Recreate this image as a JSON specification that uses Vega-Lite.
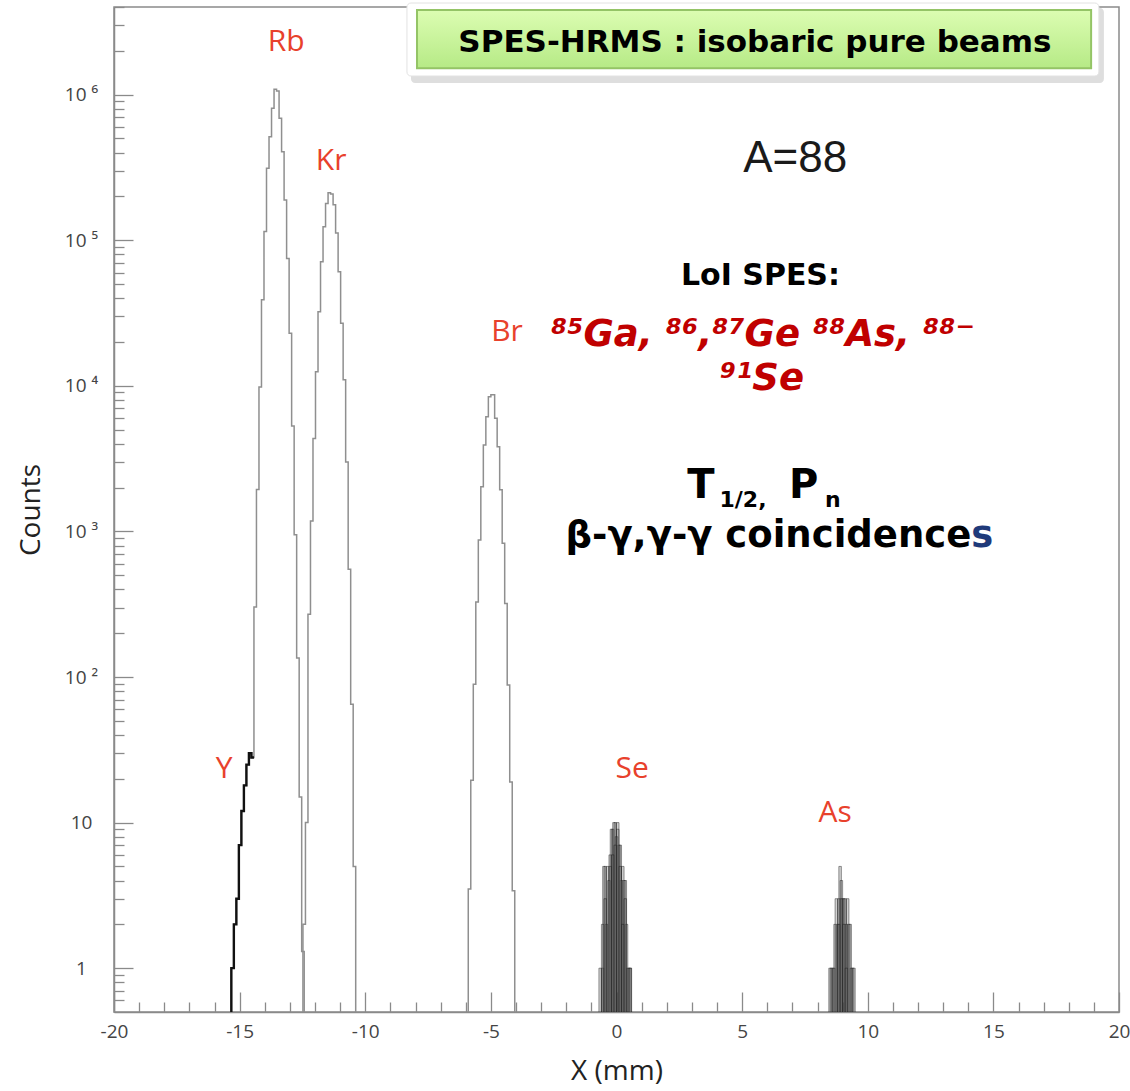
{
  "$schema": "https://vega.github.io/schema/vega-lite/v6.json",
  "width": 1005,
  "height": 1005,
  "autosize": {"type": "none"},
  "padding": {"left": 114, "top": 7, "right": 11, "bottom": 79},
  "background": "white",
  "config": {
    "view": {"stroke": "#8a8a8a", "strokeWidth": 1.5},
    "axis": {
      "grid": false,
      "domainColor": "#8a8a8a",
      "domainWidth": 1.5,
      "tickColor": "#8a8a8a",
      "tickWidth": 1.3,
      "labelColor": "#444444",
      "labelFont": "Open Sans",
      "labelFontSize": 19,
      "labelOverlap": false,
      "labelFlush": false,
      "titleFont": "Open Sans",
      "titleFontSize": 28,
      "titleFontWeight": "normal",
      "titleColor": "#222222"
    }
  },
  "datasets": {
    "hist": [
      {"s": "Rb", "x": -15.43, "y": 0.01},
      {"s": "Rb", "x": -15.33, "y": 1},
      {"s": "Rb", "x": -15.23, "y": 2},
      {"s": "Rb", "x": -15.13, "y": 3},
      {"s": "Rb", "x": -15.03, "y": 7},
      {"s": "Rb", "x": -14.93, "y": 12},
      {"s": "Rb", "x": -14.83, "y": 18},
      {"s": "Rb", "x": -14.73, "y": 25},
      {"s": "Rb", "x": -14.63, "y": 30},
      {"s": "Rb", "x": -14.53, "y": 28},
      {"s": "Rb", "x": -14.43, "y": 303},
      {"s": "Rb", "x": -14.33, "y": 1940},
      {"s": "Rb", "x": -14.23, "y": 9800},
      {"s": "Rb", "x": -14.13, "y": 39000},
      {"s": "Rb", "x": -14.03, "y": 115000},
      {"s": "Rb", "x": -13.93, "y": 312000},
      {"s": "Rb", "x": -13.83, "y": 514000},
      {"s": "Rb", "x": -13.73, "y": 805000},
      {"s": "Rb", "x": -13.63, "y": 1090000},
      {"s": "Rb", "x": -13.53, "y": 1060000},
      {"s": "Rb", "x": -13.43, "y": 688000},
      {"s": "Rb", "x": -13.33, "y": 406000},
      {"s": "Rb", "x": -13.23, "y": 189000},
      {"s": "Rb", "x": -13.13, "y": 75000},
      {"s": "Rb", "x": -13.03, "y": 23000},
      {"s": "Rb", "x": -12.93, "y": 5300},
      {"s": "Rb", "x": -12.83, "y": 950},
      {"s": "Rb", "x": -12.73, "y": 135},
      {"s": "Rb", "x": -12.63, "y": 15},
      {"s": "Rb", "x": -12.53, "y": 1.3},
      {"s": "Rb", "x": -12.43, "y": 0.01},
      {"s": "Kr", "x": -12.68, "y": 0.01},
      {"s": "Kr", "x": -12.58, "y": 0.3},
      {"s": "Kr", "x": -12.48, "y": 2},
      {"s": "Kr", "x": -12.38, "y": 10},
      {"s": "Kr", "x": -12.28, "y": 270},
      {"s": "Kr", "x": -12.18, "y": 1180},
      {"s": "Kr", "x": -12.08, "y": 4340},
      {"s": "Kr", "x": -11.98, "y": 12500},
      {"s": "Kr", "x": -11.88, "y": 32300},
      {"s": "Kr", "x": -11.78, "y": 71300},
      {"s": "Kr", "x": -11.68, "y": 124000},
      {"s": "Kr", "x": -11.58, "y": 179000},
      {"s": "Kr", "x": -11.48, "y": 212000},
      {"s": "Kr", "x": -11.38, "y": 208000},
      {"s": "Kr", "x": -11.28, "y": 175000},
      {"s": "Kr", "x": -11.18, "y": 112000},
      {"s": "Kr", "x": -11.08, "y": 60800},
      {"s": "Kr", "x": -10.98, "y": 26900},
      {"s": "Kr", "x": -10.88, "y": 11000},
      {"s": "Kr", "x": -10.78, "y": 3000},
      {"s": "Kr", "x": -10.68, "y": 550},
      {"s": "Kr", "x": -10.58, "y": 65},
      {"s": "Kr", "x": -10.48, "y": 5},
      {"s": "Kr", "x": -10.38, "y": 0.01},
      {"s": "Br", "x": -6.0, "y": 0.01},
      {"s": "Br", "x": -5.9, "y": 3.5},
      {"s": "Br", "x": -5.8, "y": 19.5},
      {"s": "Br", "x": -5.7, "y": 89},
      {"s": "Br", "x": -5.6, "y": 327},
      {"s": "Br", "x": -5.5, "y": 873},
      {"s": "Br", "x": -5.4, "y": 2030},
      {"s": "Br", "x": -5.3, "y": 3930},
      {"s": "Br", "x": -5.2, "y": 6140},
      {"s": "Br", "x": -5.1, "y": 8400},
      {"s": "Br", "x": -5.0, "y": 8700},
      {"s": "Br", "x": -4.85, "y": 5980},
      {"s": "Br", "x": -4.75, "y": 3820},
      {"s": "Br", "x": -4.65, "y": 1930},
      {"s": "Br", "x": -4.55, "y": 830},
      {"s": "Br", "x": -4.45, "y": 320},
      {"s": "Br", "x": -4.35, "y": 88},
      {"s": "Br", "x": -4.25, "y": 19},
      {"s": "Br", "x": -4.15, "y": 3.4},
      {"s": "Br", "x": -4.05, "y": 0.01},
      {"s": "Y", "x": -15.43, "y": 0.01},
      {"s": "Y", "x": -15.33, "y": 1},
      {"s": "Y", "x": -15.23, "y": 2},
      {"s": "Y", "x": -15.13, "y": 3},
      {"s": "Y", "x": -15.03, "y": 7},
      {"s": "Y", "x": -14.93, "y": 12},
      {"s": "Y", "x": -14.83, "y": 18},
      {"s": "Y", "x": -14.73, "y": 25},
      {"s": "Y", "x": -14.63, "y": 30},
      {"s": "Y", "x": -14.53, "y": 28},
      {"s": "Y", "x": -14.43, "y": 28}
    ],
    "clusters": [
      {"s": "Se1", "x": -0.7, "x2": -0.6, "y": 1},
      {"s": "Se1", "x": -0.6, "x2": -0.5, "y": 1},
      {"s": "Se1", "x": -0.5, "x2": -0.4, "y": 5},
      {"s": "Se1", "x": -0.4, "x2": -0.3, "y": 5},
      {"s": "Se1", "x": -0.3, "x2": -0.2, "y": 6},
      {"s": "Se1", "x": -0.2, "x2": -0.1, "y": 9},
      {"s": "Se1", "x": -0.1, "x2": 0.0, "y": 10},
      {"s": "Se1", "x": 0.0, "x2": 0.1, "y": 10},
      {"s": "Se1", "x": 0.1, "x2": 0.2, "y": 7},
      {"s": "Se1", "x": 0.2, "x2": 0.3, "y": 5},
      {"s": "Se1", "x": 0.3, "x2": 0.4, "y": 4},
      {"s": "Se1", "x": 0.4, "x2": 0.5, "y": 1},
      {"s": "Se1", "x": 0.5, "x2": 0.6, "y": 1},
      {"s": "Se2", "x": -0.55, "x2": -0.45, "y": 5},
      {"s": "Se2", "x": -0.45, "x2": -0.35, "y": 2},
      {"s": "Se2", "x": -0.35, "x2": -0.25, "y": 4},
      {"s": "Se2", "x": -0.25, "x2": -0.15, "y": 9},
      {"s": "Se2", "x": -0.15, "x2": -0.05, "y": 10},
      {"s": "Se2", "x": -0.05, "x2": 0.05, "y": 8},
      {"s": "Se2", "x": 0.05, "x2": 0.15, "y": 7},
      {"s": "Se2", "x": 0.15, "x2": 0.25, "y": 4},
      {"s": "Se2", "x": 0.25, "x2": 0.35, "y": 4},
      {"s": "Se2", "x": 0.35, "x2": 0.45, "y": 2},
      {"s": "Se2", "x": 0.45, "x2": 0.55, "y": 1},
      {"s": "Se3", "x": -0.6, "x2": -0.5, "y": 2},
      {"s": "Se3", "x": -0.5, "x2": -0.4, "y": 3},
      {"s": "Se3", "x": -0.3, "x2": -0.2, "y": 5},
      {"s": "Se3", "x": -0.2, "x2": -0.1, "y": 6},
      {"s": "Se3", "x": -0.1, "x2": 0.0, "y": 7},
      {"s": "Se3", "x": 0.0, "x2": 0.1, "y": 9},
      {"s": "Se3", "x": 0.1, "x2": 0.2, "y": 5},
      {"s": "Se3", "x": 0.2, "x2": 0.3, "y": 2},
      {"s": "Se3", "x": 0.3, "x2": 0.4, "y": 3},
      {"s": "Se3", "x": 0.5, "x2": 0.6, "y": 1},
      {"s": "As1", "x": 8.45, "x2": 8.55, "y": 1},
      {"s": "As1", "x": 8.55, "x2": 8.65, "y": 1},
      {"s": "As1", "x": 8.65, "x2": 8.75, "y": 2},
      {"s": "As1", "x": 8.75, "x2": 8.85, "y": 2},
      {"s": "As1", "x": 8.85, "x2": 8.95, "y": 5},
      {"s": "As1", "x": 8.95, "x2": 9.05, "y": 3},
      {"s": "As1", "x": 9.05, "x2": 9.15, "y": 3},
      {"s": "As1", "x": 9.15, "x2": 9.25, "y": 3},
      {"s": "As1", "x": 9.25, "x2": 9.35, "y": 2},
      {"s": "As1", "x": 9.35, "x2": 9.45, "y": 1},
      {"s": "As2", "x": 8.6, "x2": 8.7, "y": 1},
      {"s": "As2", "x": 8.7, "x2": 8.8, "y": 3},
      {"s": "As2", "x": 8.8, "x2": 8.9, "y": 3},
      {"s": "As2", "x": 8.9, "x2": 9.0, "y": 4},
      {"s": "As2", "x": 9.0, "x2": 9.1, "y": 3},
      {"s": "As2", "x": 9.1, "x2": 9.2, "y": 2},
      {"s": "As2", "x": 9.2, "x2": 9.3, "y": 2},
      {"s": "As2", "x": 9.3, "x2": 9.4, "y": 1},
      {"s": "As3", "x": 8.5, "x2": 8.6, "y": 1},
      {"s": "As3", "x": 8.8, "x2": 8.9, "y": 2},
      {"s": "As3", "x": 8.9, "x2": 9.0, "y": 3},
      {"s": "As3", "x": 9.0, "x2": 9.1, "y": 2},
      {"s": "As3", "x": 9.1, "x2": 9.2, "y": 1},
      {"s": "As3", "x": 9.4, "x2": 9.5, "y": 1}
    ],
    "annot": [
      {"g": "el", "t": "Rb", "x": -13.15, "y": 2000000},
      {"g": "el", "t": "Kr", "x": -11.36, "y": 304000},
      {"g": "el", "t": "Br", "x": -4.36, "y": 20300},
      {"g": "el", "t": "Y", "x": -15.62, "y": 20.3},
      {"g": "el", "t": "Se", "x": 0.62, "y": 20.3},
      {"g": "el", "t": "As", "x": 8.7, "y": 10.1},
      {"g": "A", "t": "A=88", "x": 7.11, "y": 294000},
      {"g": "loi", "t": "LoI SPES:", "x": 5.73, "y": 49300},
      {"g": "iso", "t": "⁸⁵Ga, ⁸⁶,⁸⁷Ge ⁸⁸As,  ⁸⁸⁻", "x": 5.83, "y": 18800},
      {"g": "iso", "t": "⁹¹Se", "x": 5.79, "y": 9370},
      {"g": "big", "t": "T", "x": 3.9, "y": 1700, "a": "right"},
      {"g": "big", "t": "P", "x": 6.87, "y": 1700, "a": "left"},
      {"g": "sub", "t": "1/2,", "x": 4.1, "y": 1480},
      {"g": "sub", "t": "n", "x": 8.3, "y": 1480},
      {"g": "bg", "t": "β-γ,γ-γ coincidence", "x": 14.12, "y": 780},
      {"g": "bs", "t": "s", "x": 14.12, "y": 780},
      {"g": "title", "t": "SPES-HRMS : isobaric pure beams", "x": 5.51, "y": 1960000}
    ],
    "box": [
      {"g": "shadow", "x": -8.18, "x2": 19.4, "y": 3940000, "y2": 1200000},
      {"g": "white", "x": -8.34, "x2": 19.2, "y": 4260000, "y2": 1343000},
      {"g": "green", "x": -7.94, "x2": 18.89, "y": 3810000, "y2": 1520000}
    ]
  },
  "encoding": {
    "x": {
      "field": "x",
      "type": "quantitative",
      "scale": {"domain": [-20, 20], "nice": false, "zero": false},
      "axis": {
        "title": "X (mm)",
        "values": [-20,-19,-18,-17,-16,-15,-14,-13,-12,-11,-10,-9,-8,-7,-6,-5,-4,-3,-2,-1,0,1,2,3,4,5,6,7,8,9,10,11,12,13,14,15,16,17,18,19,20],
        "labelExpr": "datum.value % 5 == 0 ? (datum.value < 0 ? '-' + abs(datum.value) : '' + datum.value) : ''",
        "tickSize": {"condition": {"test": "datum.value % 5 == 0", "value": -20}, "value": -10},
        "labelPadding": 30,
        "titlePadding": 6
      }
    },
    "y": {
      "field": "y",
      "type": "quantitative",
      "scale": {"type": "log", "domain": [0.5, 4000000], "nice": false},
      "axis": {
        "title": "Counts",
        "values": [0.6,0.7,0.8,0.9,1,2,3,4,5,6,7,8,9,10,20,30,40,50,60,70,80,90,100,200,300,400,500,600,700,800,900,1000,2000,3000,4000,5000,6000,7000,8000,9000,10000,20000,30000,40000,50000,60000,70000,80000,90000,100000,200000,300000,400000,500000,600000,700000,800000,900000,1000000,2000000,3000000,4000000],
        "labelExpr": "datum.value == 1 ? '1' : datum.value == 10 ? '10' : datum.value == 100 ? '10 ²' : datum.value == 1000 ? '10 ³' : datum.value == 10000 ? '10 ⁴' : datum.value == 100000 ? '10 ⁵' : datum.value == 1000000 ? '10 ⁶' : ''",
        "tickSize": {"condition": {"test": "indexof([1,10,100,1000,10000,100000,1000000], datum.value) >= 0", "value": -19}, "value": -10},
        "labelAlign": "center",
        "labelPadding": 52,
        "titlePadding": 19
      }
    }
  },
  "layer": [
    {
      "data": {"name": "hist"},
      "transform": [{"filter": "datum.s != 'Y'"}],
      "mark": {"type": "line", "interpolate": "step-after", "clip": true, "color": "#8f8f8f", "strokeWidth": 1.5},
      "encoding": {"detail": {"field": "s"}}
    },
    {
      "data": {"name": "hist"},
      "transform": [{"filter": "datum.s == 'Y'"}],
      "mark": {"type": "line", "interpolate": "step-after", "clip": true, "color": "#111111", "strokeWidth": 2.4},
      "encoding": {"detail": {"field": "s"}}
    },
    {
      "data": {"name": "clusters"},
      "mark": {"type": "rect", "clip": true, "fill": "#6a6a6a", "fillOpacity": 0.3, "stroke": "#1a1a1a", "strokeWidth": 0.7, "strokeOpacity": 0.65},
      "encoding": {"x2": {"field": "x2"}, "y2": {"datum": 0.01}}
    },
    {
      "data": {"name": "annot"},
      "transform": [{"filter": "datum.g == 'el'"}],
      "mark": {"type": "text", "font": "Open Sans", "fontSize": 30, "color": "#e8412c", "align": "center", "baseline": "alphabetic"},
      "encoding": {"text": {"field": "t"}}
    },
    {
      "data": {"name": "annot"},
      "transform": [{"filter": "datum.g == 'A'"}],
      "mark": {"type": "text", "font": "Liberation Sans", "fontSize": 44, "color": "#1a1a1a", "align": "center", "baseline": "alphabetic"},
      "encoding": {"text": {"field": "t"}}
    },
    {
      "data": {"name": "annot"},
      "transform": [{"filter": "datum.g == 'loi'"}],
      "mark": {"type": "text", "font": "DejaVu Sans", "fontWeight": "bold", "fontSize": 30, "color": "#000000", "align": "center", "baseline": "alphabetic"},
      "encoding": {"text": {"field": "t"}}
    },
    {
      "data": {"name": "annot"},
      "transform": [{"filter": "datum.g == 'iso'"}],
      "mark": {"type": "text", "font": "DejaVu Sans", "fontWeight": "bold", "fontStyle": "oblique", "fontSize": 37, "color": "#c00000", "align": "center", "baseline": "alphabetic"},
      "encoding": {"text": {"field": "t"}}
    },
    {
      "data": {"name": "annot"},
      "transform": [{"filter": "datum.g == 'big' && datum.a == 'right'"}],
      "mark": {"type": "text", "font": "DejaVu Sans", "fontWeight": "bold", "fontSize": 40, "color": "#000000", "align": "right", "baseline": "alphabetic"},
      "encoding": {"text": {"field": "t"}}
    },
    {
      "data": {"name": "annot"},
      "transform": [{"filter": "datum.g == 'big' && datum.a == 'left'"}],
      "mark": {"type": "text", "font": "DejaVu Sans", "fontWeight": "bold", "fontSize": 40, "color": "#000000", "align": "left", "baseline": "alphabetic"},
      "encoding": {"text": {"field": "t"}}
    },
    {
      "data": {"name": "annot"},
      "transform": [{"filter": "datum.g == 'sub'"}],
      "mark": {"type": "text", "font": "DejaVu Sans", "fontWeight": "bold", "fontSize": 22, "color": "#000000", "align": "left", "baseline": "alphabetic"},
      "encoding": {"text": {"field": "t"}}
    },
    {
      "data": {"name": "annot"},
      "transform": [{"filter": "datum.g == 'bg'"}],
      "mark": {"type": "text", "font": "DejaVu Sans", "fontWeight": "bold", "fontSize": 37, "color": "#000000", "align": "right", "baseline": "alphabetic"},
      "encoding": {"text": {"field": "t"}}
    },
    {
      "data": {"name": "annot"},
      "transform": [{"filter": "datum.g == 'bs'"}],
      "mark": {"type": "text", "font": "DejaVu Sans", "fontWeight": "bold", "fontSize": 37, "color": "#1f3a7a", "align": "left", "baseline": "alphabetic"},
      "encoding": {"text": {"field": "t"}}
    },
    {
      "data": {"name": "box"},
      "transform": [{"filter": "datum.g == 'shadow'"}],
      "mark": {"type": "rect", "fill": "#000000", "opacity": 0.13, "cornerRadius": 4},
      "encoding": {"x2": {"field": "x2"}, "y2": {"field": "y2"}}
    },
    {
      "data": {"name": "box"},
      "transform": [{"filter": "datum.g == 'white'"}],
      "mark": {"type": "rect", "fill": "#ffffff", "stroke": "#e2e2e2", "strokeWidth": 1, "cornerRadius": 4},
      "encoding": {"x2": {"field": "x2"}, "y2": {"field": "y2"}}
    },
    {
      "data": {"name": "box"},
      "transform": [{"filter": "datum.g == 'green'"}],
      "mark": {
        "type": "rect",
        "fill": {"gradient": "linear", "x1": 0, "y1": 0, "x2": 0, "y2": 1, "stops": [{"offset": 0, "color": "#dcfdb2"}, {"offset": 1, "color": "#b6ea86"}]},
        "stroke": "#94c466",
        "strokeWidth": 2
      },
      "encoding": {"x2": {"field": "x2"}, "y2": {"field": "y2"}}
    },
    {
      "data": {"name": "annot"},
      "transform": [{"filter": "datum.g == 'title'"}],
      "mark": {"type": "text", "font": "DejaVu Sans", "fontWeight": "bold", "fontSize": 31, "color": "#000000", "align": "center", "baseline": "alphabetic"},
      "encoding": {"text": {"field": "t"}}
    }
  ]
}
